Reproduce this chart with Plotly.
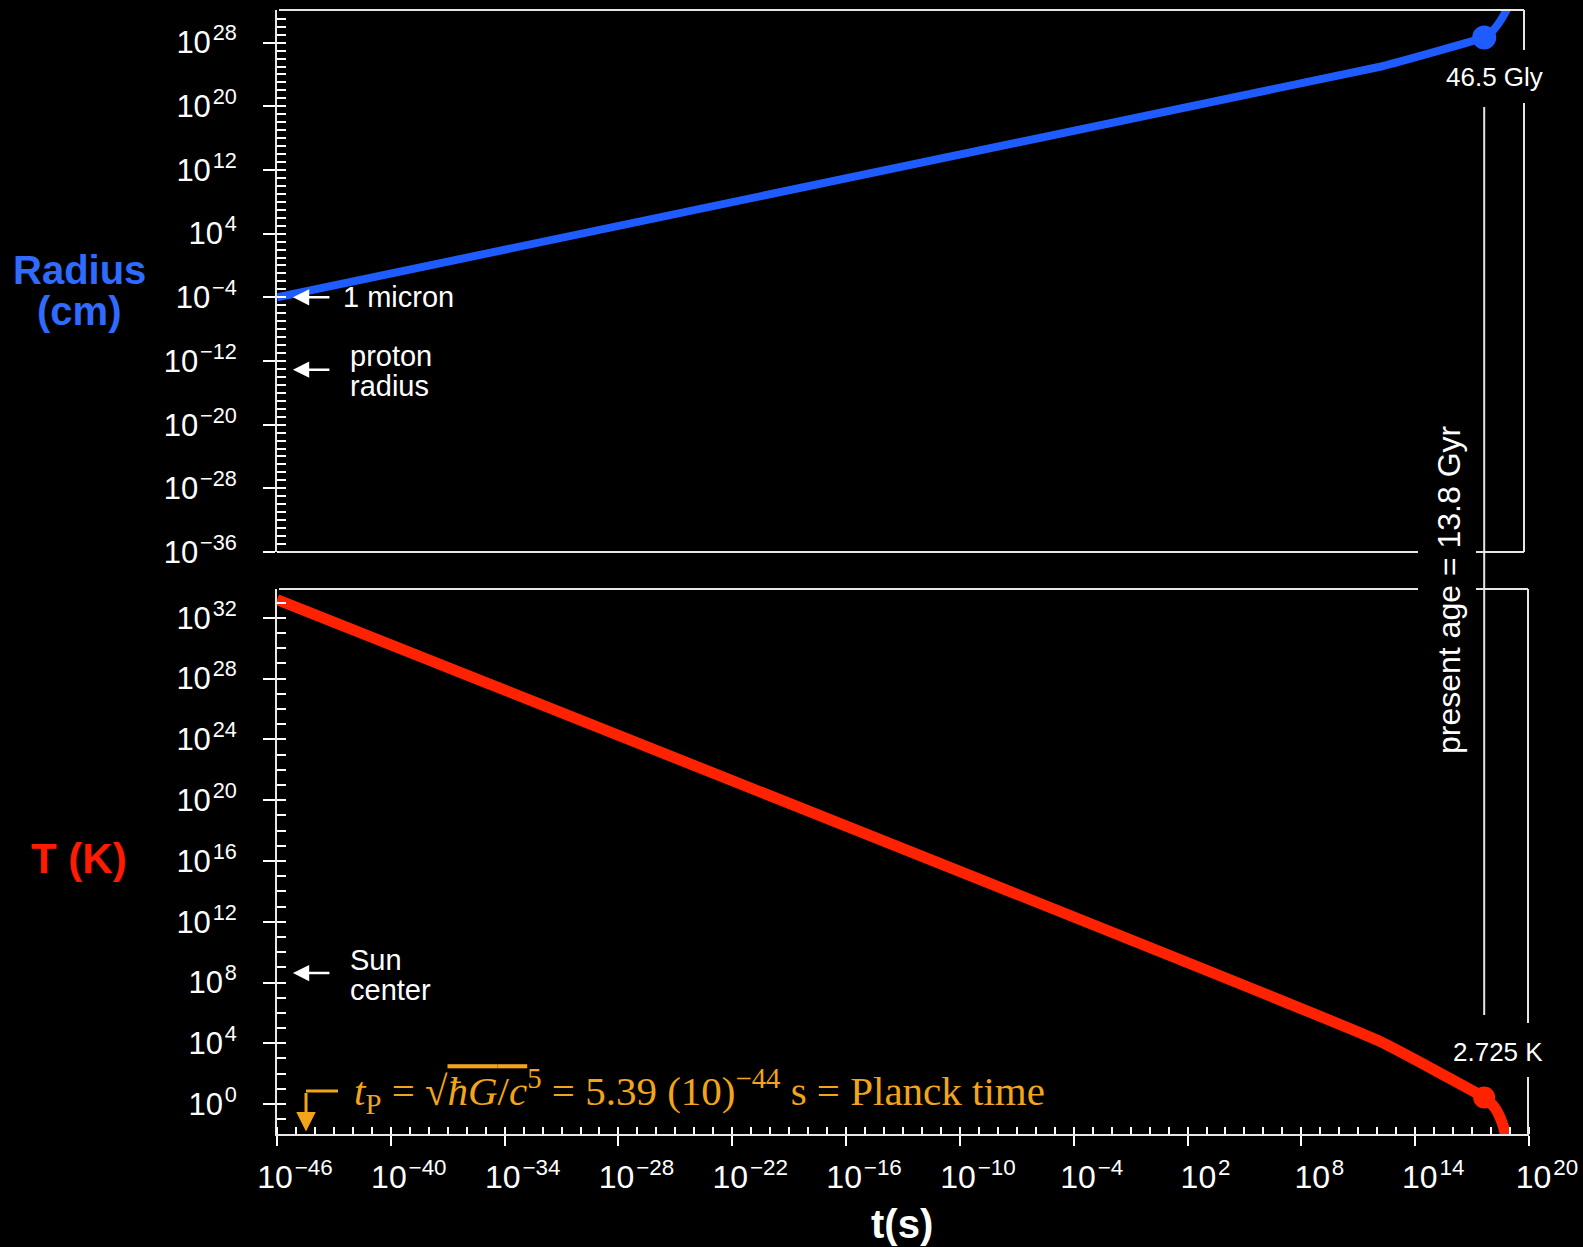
import math
import plotly.graph_objects as go

# ---------------- data ----------------
# Radius of the observable universe vs time
t_radius_s = [1e-46, 1.6e12, 4.35e17, 7.9e17, 1.6e18, 3.2e18, 6.3e18, 1.26e19]
radius_cm = [1e-4, 1e25, 4.4e28, 1e29, 6.3e29, 6.3e30, 1e32, 2.5e33]

# Temperature vs time
t_temp_s = [1e-46, 1.26e12, 4.35e17, 8.9e17, 1.6e18, 2.8e18, 4.5e18, 7.1e18]
temp_K = [1.6e33, 1.4e4, 2.725, 1.26, 0.56, 0.16, 0.032, 0.004]

# present epoch
t_now_s = 4.35e17
radius_now_cm = 4.4e28
temp_now_K = 2.725

# tick exponents
x_major_exp = [-46, -40, -34, -28, -22, -16, -10, -4, 2, 8, 14, 20]
x_minor_exp = list(range(-46, 21))
r_major_exp = [-36, -28, -20, -12, -4, 4, 12, 20, 28]
r_minor_exp = list(range(-36, 32))
T_major_exp = [0, 4, 8, 12, 16, 20, 24, 28, 32]
T_minor_exp = list(range(-1, 34))

# reference markers
micron_cm = 1e-4
proton_radius_cm = 10 ** -13.1
sun_center_K = 10 ** 8.62
planck_arrow_t = 10 ** -44.47

BLUE = "#1f5cff"
RED = "#ff2200"
ORANGE = "#f2a51a"
WHITE = "#ffffff"
FRAME = "#e6e6e6"
SANS = "Liberation Sans, Arial, sans-serif"
SERIF = "Liberation Serif, Times New Roman, serif"

# plot-area pixel geometry (used only to place free text / frame gaps)
L, R, T, B = 277, 1529, 10, 1134


def px(x):
    return (x - L) / (R - L)


def py(y):
    return (B - y) / (B - T)


def pw(e):
    return "10<sup>\u200a%s</sup>" % (str(e).replace("-", "\u2212"))


fig = go.Figure()
fig.add_trace(go.Scatter(x=t_radius_s, y=radius_cm, mode="lines",
                         line=dict(color=BLUE, width=8, shape="spline", smoothing=0.3),
                         xaxis="x2", yaxis="y2", showlegend=False, hoverinfo="skip"))
fig.add_trace(go.Scatter(x=[t_now_s], y=[radius_now_cm], mode="markers",
                         marker=dict(size=24, color=BLUE),
                         xaxis="x2", yaxis="y2", showlegend=False))
fig.add_trace(go.Scatter(x=t_temp_s, y=temp_K, mode="lines",
                         line=dict(color=RED, width=11, shape="spline", smoothing=0.3),
                         xaxis="x", yaxis="y", showlegend=False, hoverinfo="skip"))
fig.add_trace(go.Scatter(x=[t_now_s], y=[temp_now_K], mode="markers",
                         marker=dict(size=22, color=RED),
                         xaxis="x", yaxis="y", showlegend=False))

tickstyle = dict(ticks="outside", tickwidth=2, tickcolor=WHITE, showgrid=False,
                 zeroline=False, showline=True, linecolor=FRAME, linewidth=2,
                 automargin=False)

top_dom0 = py(552)
bot_dom1 = py(589)

fig.update_layout(
    width=1583, height=1247,
    paper_bgcolor="black", plot_bgcolor="black",
    margin=dict(l=L, r=1583 - R, t=T, b=1247 - B),
    showlegend=False,
    xaxis=dict(type="log", range=[-46, 20], domain=[0, 1], anchor="y",
               tickmode="array", tickvals=[10.0 ** e for e in x_major_exp],
               ticktext=[pw(e) for e in x_major_exp], ticklen=10,
               tickfont=dict(family=SANS, size=32, color=WHITE),
               ticklabelstandoff=4, ticklabelshift=18,
               minor=dict(tickmode="array", tickvals=[10.0 ** e for e in x_minor_exp],
                          ticks="inside", ticklen=7, tickwidth=2, tickcolor=WHITE,
                          showgrid=False),
               **tickstyle),
    xaxis2=dict(type="log", matches="x", anchor="y2", showticklabels=False,
                ticks="", showline=False, showgrid=False, zeroline=False,
                automargin=False),
    yaxis=dict(type="log", range=[-1.97, 33.9], domain=[0, bot_dom1], anchor="x",
               tickmode="array", tickvals=[10.0 ** e for e in T_major_exp],
               ticktext=[pw(e) for e in T_major_exp], ticklen=12,
               tickfont=dict(family=SANS, size=31, color=WHITE),
               ticklabelstandoff=20,
               minor=dict(tickmode="array", tickvals=[10.0 ** e for e in T_minor_exp],
                          ticks="inside", ticklen=9, tickwidth=2, tickcolor=WHITE,
                          showgrid=False),
               **tickstyle),
    yaxis2=dict(type="log", range=[-36, 32.1], domain=[top_dom0, 1], anchor="x2",
                tickmode="array", tickvals=[10.0 ** e for e in r_major_exp],
                ticktext=[pw(e) for e in r_major_exp], ticklen=12,
                tickfont=dict(family=SANS, size=31, color=WHITE),
                ticklabelstandoff=20,
                minor=dict(tickmode="array", tickvals=[10.0 ** e for e in r_minor_exp],
                           ticks="inside", ticklen=9, tickwidth=2, tickcolor=WHITE,
                           showgrid=False),
                **tickstyle),
)

# ---------------- frame lines (with gaps) ----------------
def pline(x0, y0, x1, y1, color=FRAME, width=2):
    fig.add_shape(type="line", xref="paper", yref="paper",
                  x0=px(x0), y0=py(y0), x1=px(x1), y1=py(y1),
                  line=dict(color=color, width=width))

# top panel
pline(279, 10, 1524, 10)
pline(1524, 10, 1524, 50)
pline(1524, 103, 1524, 552)
pline(279, 552, 1418, 552)
pline(1476, 552, 1524, 552)
# bottom panel
pline(279, 589, 1418, 589)
pline(1476, 589, 1528, 589)
pline(1528, 589, 1528, 1023)
pline(1528, 1077, 1528, 1134)

# present-age vertical line (data x on the time axis)
fig.add_shape(type="line", xref="x", yref="paper", x0=t_now_s, x1=t_now_s,
              y0=py(1015), y1=py(107), line=dict(color=FRAME, width=2))

# Planck-time bracket
pline(306, 1091, 338, 1091, color=ORANGE, width=3)
fig.add_annotation(x=math.log10(planck_arrow_t), y=-1.8, xref="x", yref="y",
                   ax=0, ay=-40, text="",
                   showarrow=True, arrowhead=2, arrowsize=1.3, arrowwidth=3,
                   arrowcolor=ORANGE)

# ---------------- annotations ----------------
def txt(text, x, y, size, color=WHITE, xanchor="left", family=SANS, xref="paper",
        yref="paper", angle=0, yanchor="middle"):
    fig.add_annotation(text=text, x=x, y=y, xref=xref, yref=yref, showarrow=False,
                       xanchor=xanchor, yanchor=yanchor, textangle=angle,
                       font=dict(family=family, size=size, color=color))


def warrow(xval, yval, xref, yref):
    fig.add_annotation(x=math.log10(xval), y=math.log10(yval), xref=xref, yref=yref,
                       ax=38, ay=0, text="", showarrow=True, arrowhead=2,
                       arrowsize=1.3, arrowwidth=2.5, arrowcolor=WHITE)

x_arrow = 10 ** -45.16
warrow(x_arrow, micron_cm, "x2", "y2")
warrow(x_arrow, proton_radius_cm, "x2", "y2")
warrow(x_arrow, sun_center_K, "x", "y")

txt("1 micron", px(341), math.log10(micron_cm), 29, yref="y2")
txt("proton", px(348), py(356), 29)
txt("radius", px(348), py(386), 29)
txt("Sun", px(348), py(960), 29)
txt("center", px(348), py(990), 29)

txt("46.5 Gly", px(1494), py(77), 26, xanchor="center")
txt("2.725 K", px(1498), py(1052), 26, xanchor="center")
txt("present age = 13.8 Gyr", px(1449), py(590), 32, xanchor="center", angle=-90)

txt("<b>Radius</b>", px(79), py(270), 40, color="#2f6bff", xanchor="center")
txt("<b>(cm)</b>", px(79), py(311), 40, color="#2f6bff", xanchor="center")
txt("<b>T (K)</b>", px(79), py(858), 42, color="#ff1a00", xanchor="center")

txt("<b>t(s)</b>", px(902), py(1224), 40, xanchor="center")

planck = ("<i>t</i><sub>P</sub> = \u221a<span style=\"text-decoration:overline\">"
          "<i>\u0127G</i>/<i>c</i></span><sup>5</sup> = 5.39 (10)<sup>\u221244</sup> s"
          " = Planck time")
txt(planck, px(352), py(1091), 41, color=ORANGE, family=SERIF)

fig.write_html("out.html",
               config={"displayModeBar": False},
               post_script="document.body.style.margin='0';"
                           "document.body.style.background='black';")
